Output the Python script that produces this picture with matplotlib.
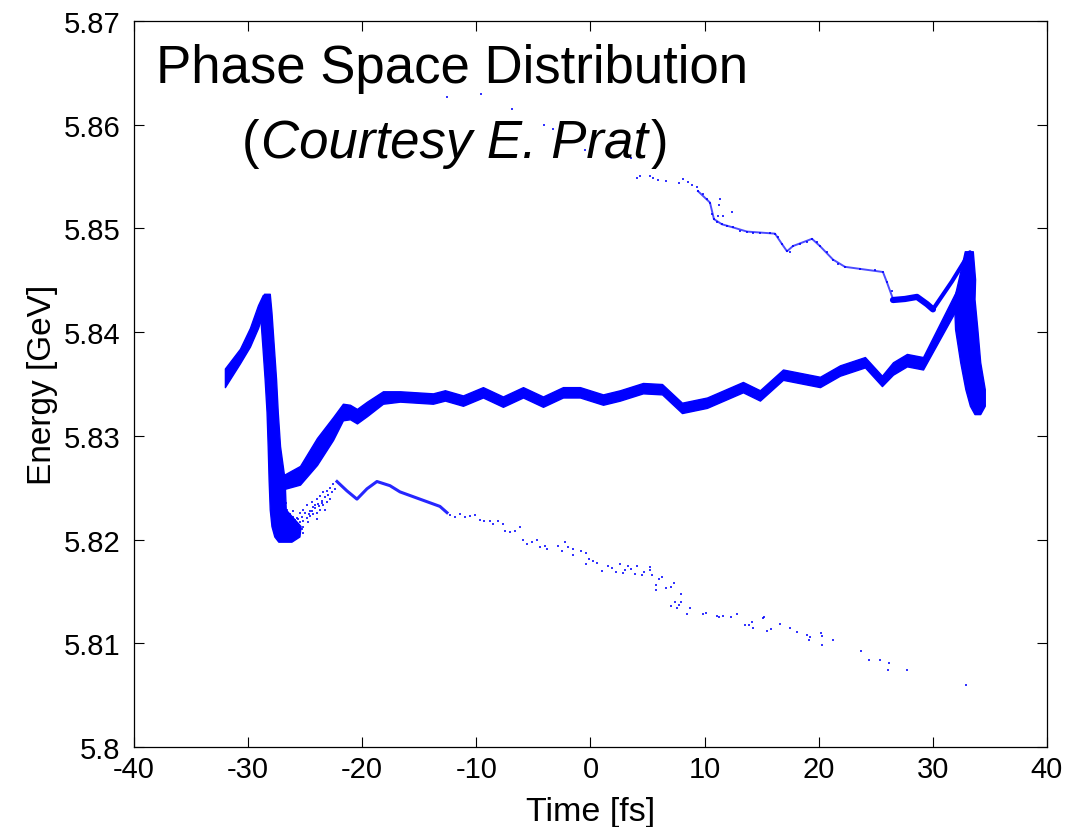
import matplotlib.pyplot as plt
import numpy as np

plt.rcParams['font.family'] = ['Liberation Sans', 'DejaVu Sans']
plt.rcParams['axes.unicode_minus'] = False

# bunch head (time, centre energy, half width of the band)
head_t = [-32.03, -30.71, -29.84, -29.13, -28.70]
head_E = [5.8356, 5.8377, 5.8395, 5.8415, 5.8427]
head_w = [0.0009, 0.0007, 0.0009, 0.0011, 0.0009]

# steep drop behind the head (energy, left time, right time)
drop_E = [5.8437, 5.8419, 5.8387, 5.8355, 5.8323, 5.8290, 5.8258, 5.8229, 5.8213, 5.8203, 5.8198]
drop_tl = [-28.60, -28.96, -28.75, -28.55, -28.38, -28.28, -28.20, -28.10, -27.95, -27.70, -27.35]
drop_tr = [-28.10, -27.95, -27.75, -27.55, -27.40, -27.20, -26.80, -26.70, -25.40, -25.50, -26.20]

# main core of the bunch
main_t = [-27.56, -26.77, -25.45, -23.96, -22.56, -21.69, -21.07, -20.46, -19.58, -18.18,
          -16.69, -13.80, -12.75, -11.17, -9.42, -7.67, -5.91, -4.16, -2.41, -0.92,
          1.10, 2.59, 4.60, 6.27, 8.02, 10.21, 13.36, 14.85, 16.87, 20.11,
          21.86, 24.05, 25.54, 26.51, 27.73, 29.14, 32.11]
main_E = [5.8256, 5.8256, 5.8262, 5.8285, 5.8307, 5.8323, 5.8323, 5.8319, 5.8326, 5.8337,
          5.8338, 5.8336, 5.8339, 5.8334, 5.8342, 5.8333, 5.8342, 5.8333, 5.8342, 5.8342,
          5.8335, 5.8339, 5.8346, 5.8345, 5.8327, 5.8332, 5.8347, 5.8339, 5.8359, 5.8352,
          5.8363, 5.8371, 5.8353, 5.8365, 5.8373, 5.8370, 5.8432]
main_w = [0.0007, 0.0007, 0.0009, 0.0013, 0.0011, 0.0008, 0.0007, 0.0007, 0.0007, 0.0006,
          0.0005, 0.0005, 0.0005, 0.0005, 0.0005, 0.0005, 0.0005, 0.0005, 0.0005, 0.0005,
          0.0005, 0.0005, 0.0005, 0.0005, 0.0005, 0.0005, 0.0005, 0.0005, 0.0005, 0.0005,
          0.0005, 0.0005, 0.0005, 0.0006, 0.0006, 0.0006, 0.0009]

# tail spike (energy, left time, right time)
tail_E = [5.8478, 5.8451, 5.8432, 5.8403, 5.8371, 5.8345, 5.8329, 5.8321]
tail_tl = [32.80, 32.25, 31.85, 31.95, 32.40, 32.85, 33.25, 33.65]
tail_tr = [33.50, 33.70, 33.65, 33.90, 34.15, 34.55, 34.55, 34.15]

# upper branch near the tail
upseg_t = [26.51, 27.56, 28.61, 29.49, 30.01]
upseg_E = [5.8431, 5.8432, 5.8434, 5.8427, 5.8422]
rise_t = [30.01, 31.68, 33.25]
rise_E = [5.8422, 5.8449, 5.8477]

# upper sparse branch
upper_line_t = [9.42, 10.47, 10.82, 11.52, 12.49, 13.71, 16.17, 16.78, 17.22, 17.74,
                19.41, 20.11, 21.25, 22.30, 25.63, 25.98, 26.51]
upper_line_E = [5.8536, 5.8525, 5.8509, 5.8504, 5.8501, 5.8497, 5.8495, 5.8485, 5.8478, 5.8483,
                5.8490, 5.8483, 5.8470, 5.8463, 5.8458, 5.8448, 5.8432]
upper_t = [-12.57, -9.59, -6.88, -4.08, -3.29, -0.66, -0.48, 3.37, 3.55, 4.07,
           4.34, 5.21, 5.48, 5.91, 6.62, 7.76, 8.11, 8.54, 8.89, 9.33,
           9.42, 9.86, 10.21, 10.47, 11.35, 11.26, 10.65, 10.82, 11.17, 11.61,
           12.40, 11.08, 11.52, 11.96, 12.49, 13.10, 13.71, 14.24, 14.85, 15.73,
           16.17, 16.43, 16.78, 17.22, 17.48, 17.74, 18.36, 18.97, 19.41, 19.85,
           20.11, 20.72, 21.25, 21.69, 22.30, 23.61, 24.93, 25.63, 25.98, 26.42]
upper_E = [5.8627, 5.8630, 5.8615, 5.8600, 5.8596, 5.8588, 5.8576, 5.8570, 5.8568, 5.8549,
           5.8551, 5.8551, 5.8549, 5.8547, 5.8546, 5.8544, 5.8548, 5.8545, 5.8542, 5.8540,
           5.8536, 5.8533, 5.8528, 5.8525, 5.8528, 5.8523, 5.8514, 5.8509, 5.8512, 5.8512,
           5.8516, 5.8506, 5.8504, 5.8502, 5.8501, 5.8498, 5.8497, 5.8496, 5.8496, 5.8496,
           5.8495, 5.8492, 5.8485, 5.8478, 5.8477, 5.8483, 5.8485, 5.8487, 5.8490, 5.8487,
           5.8483, 5.8477, 5.8470, 5.8466, 5.8463, 5.8461, 5.8460, 5.8458, 5.8448, 5.8440]

# lower sparse branch
lower_line_t = [-22.21, -21.34, -20.46, -19.58, -18.71, -17.57, -16.69, -14.94, -13.19, -12.57]
lower_line_E = [5.8256, 5.8247, 5.8239, 5.8249, 5.8256, 5.8252, 5.8246, 5.8239, 5.8232, 5.8226]
lower_t = [-26.92, -26.62, -26.33, -26.04, -25.74, -25.46, -25.17, -24.87, -24.58, -24.43,
           -24.29, -23.99, -23.85, -23.70, -23.55, -23.41, -23.26, -23.12, -22.97, -22.83,
           -22.68, -22.54, -22.39, -25.74, -25.46, -25.17, -24.87, -24.58, -24.29, -23.99,
           -23.70, -23.41, -23.12, -22.83, -26.33, -26.04, -26.48, -23.26, -23.99, -24.14,
           -24.73, -25.17, -25.60, -25.30, -25.00, -24.70, -24.40, -24.10, -23.80, -23.50,
           -26.80, -26.50, -26.20, -25.90, -25.60, -25.30, -27.10, -26.70, -26.10, -25.20,
           -12.31, -11.87, -11.43, -11.00, -10.56, -10.12, -9.68, -9.33, -8.81, -8.54,
           -8.10, -7.67, -7.49, -7.05, -6.62, -6.18, -5.92, -5.56, -5.13, -4.69,
           -4.43, -3.99, -3.81, -2.85, -2.50, -2.23, -1.97, -1.53, -1.53, -0.83,
           -0.39, -0.39, -0.13, 0.22, 0.57, 1.01, 1.53, 1.88, 2.23, 2.59,
           2.85, 3.02, 3.29, 3.55, 3.90, 4.07, 4.51, 4.69, 5.21, 5.21,
           5.39, 5.74, 5.74, 6.00, 6.27, 6.62, 7.05, 7.32, 7.93, 7.05,
           7.40, 7.58, 7.76, 7.93, 8.72, 8.46, 9.86, 10.12, 11.08, 11.26,
           11.61, 12.31, 12.84, 13.54, 13.89, 14.24, 14.15, 15.12, 15.20, 15.47,
           15.82, 16.61, 17.48, 18.09, 18.97, 19.23, 19.15, 20.20, 20.29, 20.29,
           21.25, 23.70, 24.40, 25.37, 26.16, 26.07, 27.73, 32.90]
lower_E = [5.8223, 5.8229, 5.8225, 5.8228, 5.8221, 5.8226, 5.8229, 5.8233, 5.8228, 5.8236,
           5.8231, 5.8239, 5.8234, 5.8242, 5.8237, 5.8246, 5.8241, 5.8247, 5.8243, 5.8250,
           5.8246, 5.8254, 5.8249, 5.8213, 5.8217, 5.8218, 5.8221, 5.8223, 5.8225, 5.8226,
           5.8229, 5.8233, 5.8236, 5.8239, 5.8210, 5.8213, 5.8218, 5.8229, 5.8220, 5.8233,
           5.8217, 5.8212, 5.8220, 5.8222, 5.8226, 5.8225, 5.8228, 5.8230, 5.8232, 5.8235,
           5.8225, 5.8220, 5.8216, 5.8219, 5.8215, 5.8210, 5.8230, 5.8235, 5.8222, 5.8206,
           5.8224, 5.8222, 5.8225, 5.8222, 5.8223, 5.8224, 5.8219, 5.8218, 5.8218, 5.8215,
           5.8218, 5.8215, 5.8208, 5.8207, 5.8208, 5.8212, 5.8200, 5.8196, 5.8198, 5.8200,
           5.8193, 5.8194, 5.8191, 5.8194, 5.8189, 5.8198, 5.8193, 5.8191, 5.8185, 5.8189,
           5.8187, 5.8176, 5.8181, 5.8179, 5.8177, 5.8170, 5.8175, 5.8173, 5.8169, 5.8176,
           5.8168, 5.8171, 5.8175, 5.8172, 5.8167, 5.8175, 5.8166, 5.8169, 5.8174, 5.8171,
           5.8166, 5.8156, 5.8151, 5.8162, 5.8164, 5.8153, 5.8154, 5.8158, 5.8148, 5.8136,
           5.8140, 5.8134, 5.8137, 5.8140, 5.8134, 5.8128, 5.8128, 5.8129, 5.8126, 5.8125,
           5.8126, 5.8125, 5.8128, 5.8118, 5.8118, 5.8115, 5.8121, 5.8124, 5.8125, 5.8112,
           5.8114, 5.8119, 5.8115, 5.8111, 5.8108, 5.8106, 5.8103, 5.8110, 5.8107, 5.8098,
           5.8103, 5.8093, 5.8084, 5.8084, 5.8081, 5.8074, 5.8074, 5.8060]

x_ticks = [-40, -30, -20, -10, 0, 10, 20, 30, 40]
y_ticks = [5.80, 5.81, 5.82, 5.83, 5.84, 5.85, 5.86, 5.87]
y_labels = ['5.8', '5.81', '5.82', '5.83', '5.84', '5.85', '5.86', '5.87']

blue = '#0000ff'

fig, ax = plt.subplots(figsize=(10.89, 8.28), dpi=100)
fig.subplots_adjust(left=0.123, right=0.9614, bottom=0.0966, top=0.9734)

hE, hw = np.array(head_E), np.array(head_w)
ax.fill_between(head_t, hE - hw, hE + hw, color=blue, lw=1)
ax.fill_betweenx(drop_E, drop_tl, drop_tr, color=blue, lw=1)
mE, mw = np.array(main_E), np.array(main_w)
ax.fill_between(main_t, mE - mw, mE + mw, color=blue, lw=1)
ax.fill_betweenx(tail_E, tail_tl, tail_tr, color=blue, lw=1)
ax.plot(upseg_t, upseg_E, color=blue, lw=4.5, solid_capstyle='round')
ax.plot(rise_t, rise_E, color=blue, lw=3, solid_capstyle='round')

ax.plot(upper_line_t, upper_line_E, color=blue, lw=1.4, alpha=0.7)
ax.plot(lower_line_t, lower_line_E, color=blue, lw=2.2, alpha=0.85)
ax.scatter(upper_t, upper_E, s=4, marker='s', color=blue, lw=0, alpha=0.8)
ax.scatter(lower_t, lower_E, s=4, marker='s', color=blue, lw=0, alpha=0.8)

ax.set_xlim(-40, 40)
ax.set_ylim(5.8, 5.87)
ax.set_xticks(x_ticks)
ax.set_xticklabels([str(v) for v in x_ticks])
ax.set_yticks(y_ticks)
ax.set_yticklabels(y_labels)
ax.tick_params(direction='in', length=7, width=0.8, top=True, right=True, labelsize=21)
ax.tick_params(axis='y', pad=10)
ax.tick_params(axis='x', pad=6)
for sp in ax.spines.values():
    sp.set_linewidth(0.9)

ax.set_xlabel('Time [fs]', fontsize=24.5, labelpad=9)
ax.set_ylabel('Energy [GeV]', fontsize=24, labelpad=4)

ax.text(0.348, 0.916, 'Phase Space Distribution', transform=ax.transAxes,
        ha='center', va='baseline', fontsize=38)
# second title line: italic name between upright brackets
name = ax.text(0.3516, 0.8127, 'Courtesy E. Prat', transform=ax.transAxes,
               ha='center', va='baseline', fontsize=38, style='italic')
fig.canvas.draw()
bb = name.get_window_extent().transformed(ax.transAxes.inverted())
ax.text(bb.x0 - 0.002, 0.8127, '(', transform=ax.transAxes,
        ha='right', va='baseline', fontsize=38)
ax.text(bb.x1 + 0.002, 0.8127, ')', transform=ax.transAxes,
        ha='left', va='baseline', fontsize=38)

plt.savefig('out.png', dpi=100)
